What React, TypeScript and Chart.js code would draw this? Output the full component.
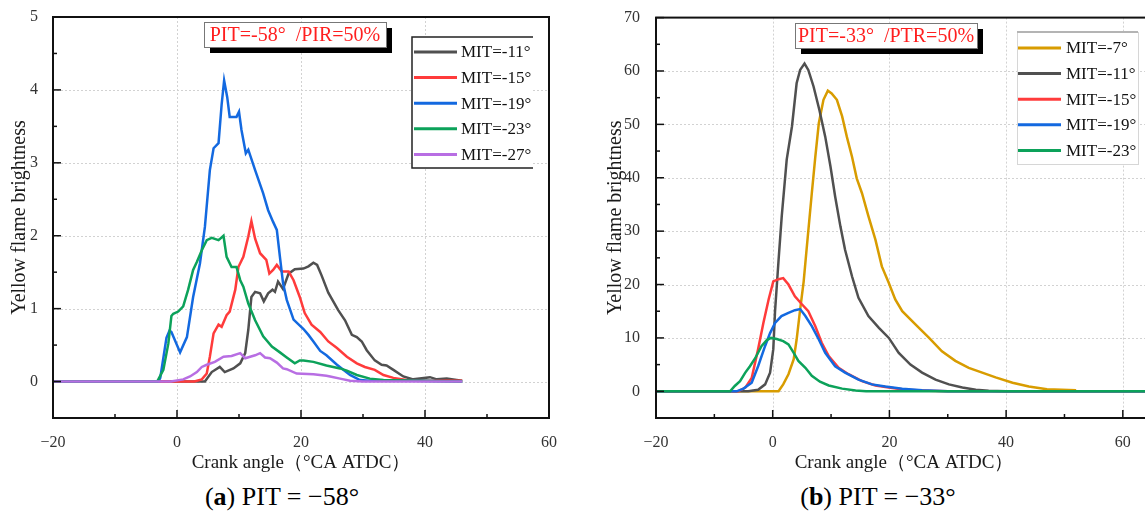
import React, { useEffect, useRef } from "react";
import { Chart, registerables } from "chart.js";

Chart.register(...registerables);

const SERIF = '"Liberation Serif", "Times New Roman", serif';

// ---------- Panel (a): PIT = -58° ----------
const A_X_TICKS = [-20, 0, 20, 40, 60];
const A_X_MINOR = [-10, 10, 30, 50];
const A_Y_TICKS = [0, 1, 2, 3, 4, 5];
const A_Y_MINOR = [0.5, 1.5, 2.5, 3.5, 4.5];
const A_NOTE = "PIT=-58°  /PIR=50%";
const A_CAPTION = "PIT = −58°";
const A_LABELS = ["MIT=-11°", "MIT=-15°", "MIT=-19°", "MIT=-23°", "MIT=-27°"];

const A_M11_X = [-20, 4.5, 5.6, 6.9, 7.7, 9.1, 10.2, 11.0, 11.5, 12.0, 12.6, 13.4, 14.0, 14.7, 15.4, 15.8, 16.3, 17.1, 18.0, 19.0, 20.4, 21.2, 22.0, 22.6, 23.3, 24.4, 25.2, 26.0, 27.1, 28.2, 29.0, 29.8, 30.6, 31.9, 33.0, 33.8, 34.9, 36.5, 38.1, 40.8, 41.9, 43.5, 45.1, 46];
const A_M11_Y = [0, 0, 0.13, 0.2, 0.13, 0.18, 0.25, 0.39, 0.71, 1.16, 1.23, 1.21, 1.1, 1.21, 1.26, 1.23, 1.37, 1.27, 1.48, 1.54, 1.55, 1.58, 1.63, 1.6, 1.46, 1.22, 1.1, 0.98, 0.84, 0.64, 0.61, 0.55, 0.43, 0.29, 0.23, 0.22, 0.16, 0.07, 0.03, 0.06, 0.03, 0.04, 0.02, 0.01];

const A_M15_X = [-20, 2.8, 4.0, 4.8, 5.3, 5.9, 6.7, 7.2, 8.0, 8.5, 9.4, 9.9, 10.7, 11.5, 12.0, 12.6, 13.4, 14.4, 14.9, 15.5, 16.1, 16.9, 18.0, 18.8, 19.8, 20.6, 21.7, 23.1, 24.4, 25.8, 27.4, 29.0, 30.3, 31.9, 33.3, 34.9, 37.0, 40, 46];
const A_M15_Y = [0, 0, 0.03, 0.11, 0.34, 0.66, 0.78, 0.75, 0.91, 0.96, 1.26, 1.57, 1.71, 1.99, 2.2, 1.96, 1.76, 1.67, 1.48, 1.53, 1.6, 1.51, 1.51, 1.39, 1.16, 0.94, 0.78, 0.68, 0.55, 0.46, 0.34, 0.25, 0.2, 0.16, 0.09, 0.05, 0.02, 0.01, 0.01];

const A_M19_X = [-20, -3.0, -2.7, -1.7, -1.2, -0.9, 0.5, 1.6, 2.6, 3.7, 4.5, 5.3, 5.9, 6.7, 7.2, 7.6, 8.1, 8.5, 9.6, 10.0, 10.4, 11.1, 11.5, 12.6, 13.9, 14.7, 15.5, 16.1, 16.6, 17.1, 17.7, 18.8, 20.4, 21.2, 22.0, 23.1, 24.1, 25.8, 27.9, 29.5, 31, 38.7, 46];
const A_M19_Y = [0, 0, 0.05, 0.6, 0.7, 0.68, 0.4, 0.61, 1.16, 1.62, 2.12, 2.9, 3.2, 3.27, 3.8, 4.13, 3.9, 3.63, 3.63, 3.7, 3.45, 3.13, 3.18, 2.9, 2.58, 2.35, 2.19, 2.08, 1.71, 1.35, 1.12, 0.85, 0.72, 0.64, 0.55, 0.42, 0.36, 0.23, 0.09, 0.02, 0.01, 0.01, 0];

const A_M23_X = [-20, -3.2, -2.2, -1.4, -0.9, -0.6, 0.2, 1.0, 1.8, 2.6, 3.2, 4.0, 4.8, 5.6, 6.7, 7.5, 8.0, 8.8, 9.6, 10.2, 10.7, 11.5, 12.6, 13.9, 15.3, 16.6, 17.7, 19.0, 19.8, 20.4, 22.0, 24.1, 26.3, 27.4, 29.0, 31.1, 33.3, 38, 46];
const A_M23_Y = [0, 0, 0.16, 0.52, 0.9, 0.93, 0.96, 1.03, 1.26, 1.53, 1.64, 1.8, 1.94, 1.97, 1.94, 2.0, 1.71, 1.57, 1.57, 1.39, 1.3, 1.07, 0.84, 0.62, 0.48, 0.4, 0.33, 0.25, 0.29, 0.29, 0.27, 0.22, 0.18, 0.15, 0.09, 0.04, 0.02, 0.01, 0];

const A_M27_X = [-20, -1.0, 1.0, 2.1, 3.2, 4.0, 4.8, 6.1, 7.5, 8.8, 10.2, 11.0, 11.8, 12.6, 13.4, 14.2, 15.0, 16.1, 17.1, 17.7, 19.3, 22.0, 24.1, 24.7, 26.3, 27.9, 30, 46];
const A_M27_Y = [0, 0, 0.03, 0.07, 0.13, 0.2, 0.23, 0.27, 0.34, 0.35, 0.39, 0.32, 0.34, 0.36, 0.39, 0.33, 0.32, 0.26, 0.18, 0.17, 0.11, 0.1, 0.08, 0.07, 0.04, 0.01, 0, 0];

// ---------- Panel (b): PIT = -33° ----------
const B_X_TICKS = [-20, 0, 20, 40, 60];
const B_X_MINOR = [-10, 10, 30, 50];
const B_Y_TICKS = [0, 10, 20, 30, 40, 50, 60, 70];
const B_Y_MINOR = [5, 15, 25, 35, 45, 55, 65];
const B_NOTE = "PIT=-33°  /PTR=50%";
const B_CAPTION = "PIT = −33°";
const B_LABELS = ["MIT=-7°", "MIT=-11°", "MIT=-15°", "MIT=-19°", "MIT=-23°"];

const B_M7_X = [-20, 1.0, 1.8, 2.7, 3.6, 4.1, 4.7, 5.3, 5.8, 6.7, 7.3, 7.9, 8.7, 9.45, 10.1, 11.0, 11.9, 12.7, 13.6, 14.4, 15.3, 16.4, 17.6, 18.7, 19.9, 21.0, 22.2, 24.5, 26.8, 29.0, 31.3, 33.6, 35.9, 38.2, 41.1, 43.9, 47, 52];
const B_M7_Y = [0, 0, 1.3, 3.2, 6.0, 9.7, 15.3, 20.5, 26.5, 37.1, 43.9, 50.2, 54.6, 56.3, 55.8, 54.6, 51.5, 47.7, 43.9, 39.9, 37.1, 32.8, 28.4, 23.4, 20.3, 17.2, 15.0, 12.5, 10.0, 7.5, 5.7, 4.4, 3.5, 2.6, 1.6, 0.9, 0.4, 0.2];

const B_M11_X = [-20, -4.2, -2.5, -1.3, -0.45, 0.1, 0.4, 1.0, 1.55, 2.4, 3.3, 4.1, 4.7, 5.45, 6.1, 7.0, 8.0, 9.0, 9.9, 10.7, 11.6, 12.4, 13.6, 14.7, 16.4, 18.2, 19.9, 21.6, 23.6, 25.6, 27.9, 30.2, 32.5, 34.8, 37, 40, 65];
const B_M11_Y = [0, 0, 0.3, 1.3, 3.5, 7.9, 15, 24.5, 32.8, 43.4, 49.6, 57.7, 60.2, 61.4, 60.2, 57.1, 52.7, 47.7, 42.1, 36.5, 30.9, 26.5, 21.5, 17.5, 14.1, 11.9, 10.0, 7.2, 5.0, 3.5, 2.2, 1.3, 0.7, 0.3, 0.1, 0, 0];

const B_M15_X = [-20, -5.9, -4.7, -3.6, -2.5, -1.6, -0.7, 0.1, 1.0, 1.8, 2.7, 3.8, 5.0, 6.1, 7.3, 8.4, 9.6, 11.3, 13.0, 15.3, 17.6, 19.9, 22.7, 26.8, 30, 65];
const B_M15_Y = [0, 0, 0.7, 2.5, 7.9, 12.8, 17.2, 20.6, 21.0, 21.2, 20.0, 17.8, 16.3, 15.0, 12.2, 9.1, 6.6, 4.4, 3.2, 1.9, 1.1, 0.7, 0.3, 0.1, 0, 0];

const B_M19_X = [-20, -6.2, -5.0, -3.6, -2.5, -1.3, -0.45, 0.4, 1.5, 2.7, 3.8, 4.7, 5.6, 6.7, 7.9, 9.0, 10.7, 12.4, 14.7, 17.0, 19.3, 22.2, 25.6, 30, 65];
const B_M19_Y = [0, 0, 0.5, 1.6, 4.7, 8.5, 10.9, 12.8, 14.1, 14.7, 15.2, 15.4, 14.1, 12.2, 9.7, 7.2, 4.7, 3.5, 2.2, 1.3, 0.9, 0.5, 0.2, 0, 0];

const B_M23_X = [-20, -7.3, -6.5, -5.6, -4.7, -3.9, -3.0, -1.9, -1.0, -0.3, 0.7, 1.8, 2.7, 3.6, 4.4, 5.6, 6.7, 8.1, 9.6, 11.9, 14.2, 16, 65];
const B_M23_Y = [0, 0, 1.0, 1.9, 3.5, 4.7, 6.2, 8.5, 9.6, 10.0, 9.8, 9.4, 8.8, 7.2, 5.7, 4.4, 2.9, 1.8, 1.1, 0.5, 0.15, 0, 0];

const C_BLACK = "#505050";
const C_RED = "#ff3b3b";
const C_BLUE = "#1369e0";
const C_GREEN = "#0ca25a";
const C_PURPLE = "#b86ee3";
const C_ORANGE = "#d89c00";

const X_TITLE = "Crank angle（°CA ATDC）";
const Y_TITLE = "Yellow flame brightness";

function pts(xs: number[], ys: number[]) {
  return xs.map((x, i) => ({ x, y: ys[i] }));
}

function fmt(v: number | string) {
  const n = Number(v);
  return n < 0 ? "−" + Math.abs(n) : String(n);
}

const decorPlugin = {
  id: "panelDecor",
  beforeDatasetsDraw(chart: any, _args: any, o: any) {
    const { ctx, chartArea: ca, scales } = chart;
    const x = scales.x, y = scales.y;
    ctx.save();
    ctx.strokeStyle = "#d2d2d2";
    ctx.lineWidth = 1;
    ctx.setLineDash([2, 2]);
    for (const v of o.xTicks) {
      const px = Math.round(x.getPixelForValue(v)) + 0.5;
      if (px <= ca.left + 2 || px >= ca.right - 2) continue;
      ctx.beginPath(); ctx.moveTo(px, ca.top); ctx.lineTo(px, ca.bottom); ctx.stroke();
    }
    for (const v of o.yTicks) {
      const py = Math.round(y.getPixelForValue(v)) + 0.5;
      if (py <= ca.top + 2 || py >= ca.bottom - 2) continue;
      ctx.beginPath(); ctx.moveTo(ca.left, py); ctx.lineTo(ca.right, py); ctx.stroke();
    }
    ctx.restore();
  },
  afterDatasetsDraw(chart: any, _args: any, o: any) {
    const { ctx, chartArea: ca, scales } = chart;
    const x = scales.x, y = scales.y;
    ctx.save();
    ctx.setLineDash([]);
    // frame
    ctx.strokeStyle = "#111";
    ctx.lineWidth = 2;
    ctx.strokeRect(ca.left, ca.top, ca.right - ca.left, ca.bottom - ca.top);
    // inward ticks
    ctx.lineWidth = 1.5;
    const tick = (x0: number, y0: number, x1: number, y1: number) => {
      ctx.beginPath(); ctx.moveTo(x0, y0); ctx.lineTo(x1, y1); ctx.stroke();
    };
    for (const v of o.xTicks) { const px = x.getPixelForValue(v); tick(px, ca.bottom, px, ca.bottom - 8); }
    for (const v of o.xMinor) { const px = x.getPixelForValue(v); tick(px, ca.bottom, px, ca.bottom - 4); }
    for (const v of o.yTicks) { const py = y.getPixelForValue(v); tick(ca.left, py, ca.left + 8, py); }
    for (const v of o.yMinor) { const py = y.getPixelForValue(v); tick(ca.left, py, ca.left + 4, py); }

    // note box with shadow
    const n = o.note;
    ctx.fillStyle = "#000";
    ctx.fillRect(n.x + 6, n.y + 6, n.w, n.h);
    ctx.fillStyle = "#fff";
    ctx.fillRect(n.x, n.y, n.w, n.h);
    ctx.strokeStyle = "#777";
    ctx.lineWidth = 1;
    ctx.strokeRect(n.x + 0.5, n.y + 0.5, n.w, n.h);
    ctx.fillStyle = "#ff1f1f";
    ctx.font = `20px ${SERIF}`;
    ctx.textAlign = "center";
    ctx.textBaseline = "middle";
    ctx.fillText(n.text, n.x + n.w / 2, n.y + n.h / 2 + 1);

    // legend
    const L = o.legend;
    ctx.fillStyle = "#fff";
    ctx.fillRect(L.x, L.y, L.w, L.h);
    if (L.style === "dark") {
      ctx.strokeStyle = "#222";
      ctx.lineWidth = 1.5;
      ctx.beginPath();
      ctx.moveTo(L.x + L.w, L.y); ctx.lineTo(L.x, L.y); ctx.lineTo(L.x, L.y + L.h); ctx.lineTo(L.x + L.w, L.y + L.h);
      ctx.stroke();
    } else {
      ctx.strokeStyle = "#d6d6d6";
      ctx.lineWidth = 1;
      ctx.strokeRect(L.x + 0.5, L.y + 0.5, L.w, L.h);
      ctx.strokeStyle = "#b4b4b4";
      ctx.lineWidth = 2;
      ctx.beginPath(); ctx.moveTo(L.x, L.y); ctx.lineTo(L.x + L.w, L.y); ctx.stroke();
    }
    ctx.font = `17px ${SERIF}`;
    ctx.textAlign = "left";
    ctx.textBaseline = "middle";
    chart.data.datasets.forEach((ds: any, i: number) => {
      const yy = L.row0 + i * L.gap;
      ctx.strokeStyle = ds.borderColor;
      ctx.lineWidth = 3;
      ctx.beginPath(); ctx.moveTo(L.line0, yy); ctx.lineTo(L.line1, yy); ctx.stroke();
      ctx.fillStyle = "#111";
      ctx.fillText(ds.label, L.textX, yy + 1);
    });
    ctx.restore();
  },
};

function makeConfig(p: any) {
  const n = p.series.length;
  return {
    type: "line",
    data: {
      datasets: p.series.map((s: any, i: number) => ({
        label: s.label,
        data: pts(s.xs, s.ys),
        borderColor: s.color,
        backgroundColor: s.color,
        borderWidth: 2.5,
        pointRadius: 0,
        tension: 0,
        fill: false,
        order: n - i,
      })),
    },
    options: {
      responsive: false,
      animation: false,
      devicePixelRatio: 1,
      parsing: true,
      layout: { padding: { left: 0, top: 17, right: p.padRight, bottom: 0 } },
      plugins: {
        legend: { display: false },
        tooltip: { enabled: false },
        panelDecor: {
          xTicks: p.xTicks, xMinor: p.xMinor, yTicks: p.yTicks, yMinor: p.yMinor,
          note: p.note, legend: p.legend,
        },
      },
      scales: {
        x: {
          type: "linear",
          min: p.xMin, max: p.xMax,
          afterBuildTicks: (s: any) => { s.ticks = p.xTicks.map((v: number) => ({ value: v })); },
          afterFit: (s: any) => { s.height = p.xAxisH; },
          grid: { display: false },
          border: { display: false },
          ticks: { padding: 7, color: "#333", font: { family: SERIF, size: 16 }, callback: fmt, maxRotation: 0, autoSkip: false },
          title: { display: true, text: X_TITLE, color: "#1a1a1a", font: { family: SERIF, size: 19 }, padding: { top: 0, bottom: 6 } },
        },
        y: {
          type: "linear",
          min: p.yMin, max: p.yMax,
          afterBuildTicks: (s: any) => { s.ticks = p.yTicks.map((v: number) => ({ value: v })); },
          afterFit: (s: any) => { s.width = p.yAxisW; },
          grid: { display: false },
          border: { display: false },
          ticks: { padding: p.yTickPad, color: "#333", font: { family: SERIF, size: 16 }, callback: fmt, autoSkip: false },
          title: { display: true, text: Y_TITLE, color: "#1a1a1a", font: { family: SERIF, size: 20 }, padding: { top: p.yTitlePad, bottom: 0 } },
        },
      },
    },
    plugins: [decorPlugin],
  };
}

const PANEL_A = {
  xMin: -20, xMax: 60, yMin: -0.5, yMax: 5,
  xTicks: A_X_TICKS, xMinor: A_X_MINOR, yTicks: A_Y_TICKS, yMinor: A_Y_MINOR,
  padRight: 26, xAxisH: 62, yAxisW: 53, yTickPad: 7, yTitlePad: 8,
  note: { x: 204, y: 22, w: 182, h: 25, text: A_NOTE },
  legend: { x: 412, y: 37, w: 121, h: 131, row0: 52, gap: 25.6, line0: 414, line1: 457, textX: 461, style: "dark" },
  series: [
    { label: A_LABELS[0], xs: A_M11_X, ys: A_M11_Y, color: C_BLACK },
    { label: A_LABELS[1], xs: A_M15_X, ys: A_M15_Y, color: C_RED },
    { label: A_LABELS[2], xs: A_M19_X, ys: A_M19_Y, color: C_BLUE },
    { label: A_LABELS[3], xs: A_M23_X, ys: A_M23_Y, color: C_GREEN },
    { label: A_LABELS[4], xs: A_M27_X, ys: A_M27_Y, color: C_PURPLE },
  ],
};

const PANEL_B = {
  xMin: -20, xMax: 65, yMin: -5, yMax: 70,
  xTicks: B_X_TICKS, xMinor: B_X_MINOR, yTicks: B_Y_TICKS, yMinor: B_Y_MINOR,
  padRight: 18, xAxisH: 62, yAxisW: 66, yTickPad: 8, yTitlePad: 14,
  note: { x: 205, y: 23, w: 182, h: 25, text: B_NOTE },
  legend: { x: 427, y: 32, w: 121, h: 132, row0: 48, gap: 25.6, line0: 428, line1: 471, textX: 476, style: "light" },
  series: [
    { label: B_LABELS[0], xs: B_M7_X, ys: B_M7_Y, color: C_ORANGE },
    { label: B_LABELS[1], xs: B_M11_X, ys: B_M11_Y, color: C_BLACK },
    { label: B_LABELS[2], xs: B_M15_X, ys: B_M15_Y, color: C_RED },
    { label: B_LABELS[3], xs: B_M19_X, ys: B_M19_Y, color: C_BLUE },
    { label: B_LABELS[4], xs: B_M23_X, ys: B_M23_Y, color: C_GREEN },
  ],
};

export default function App() {
  const refA = useRef<HTMLCanvasElement>(null);
  const refB = useRef<HTMLCanvasElement>(null);
  useEffect(() => {
    const a = new Chart(refA.current as HTMLCanvasElement, makeConfig(PANEL_A) as any);
    const b = new Chart(refB.current as HTMLCanvasElement, makeConfig(PANEL_B) as any);
    return () => { a.destroy(); b.destroy(); };
  }, []);
  const cap: React.CSSProperties = {
    position: "absolute", top: 482, width: 300, textAlign: "center",
    fontSize: 26, lineHeight: "30px", color: "#000", fontFamily: SERIF, whiteSpace: "nowrap",
  };
  return (
    <div style={{ position: "fixed", left: 0, top: 0, width: 1145, height: 511, overflow: "hidden", background: "#fff" }}>
      <canvas ref={refA} width={575} height={480} style={{ position: "absolute", left: 0, top: 0 }} />
      <canvas ref={refB} width={580} height={480} style={{ position: "absolute", left: 590, top: 0 }} />
      <div style={{ ...cap, left: 132 }}>(<b>a</b>) {A_CAPTION}</div>
      <div style={{ ...cap, left: 728 }}>(<b>b</b>) {B_CAPTION}</div>
    </div>
  );
}
